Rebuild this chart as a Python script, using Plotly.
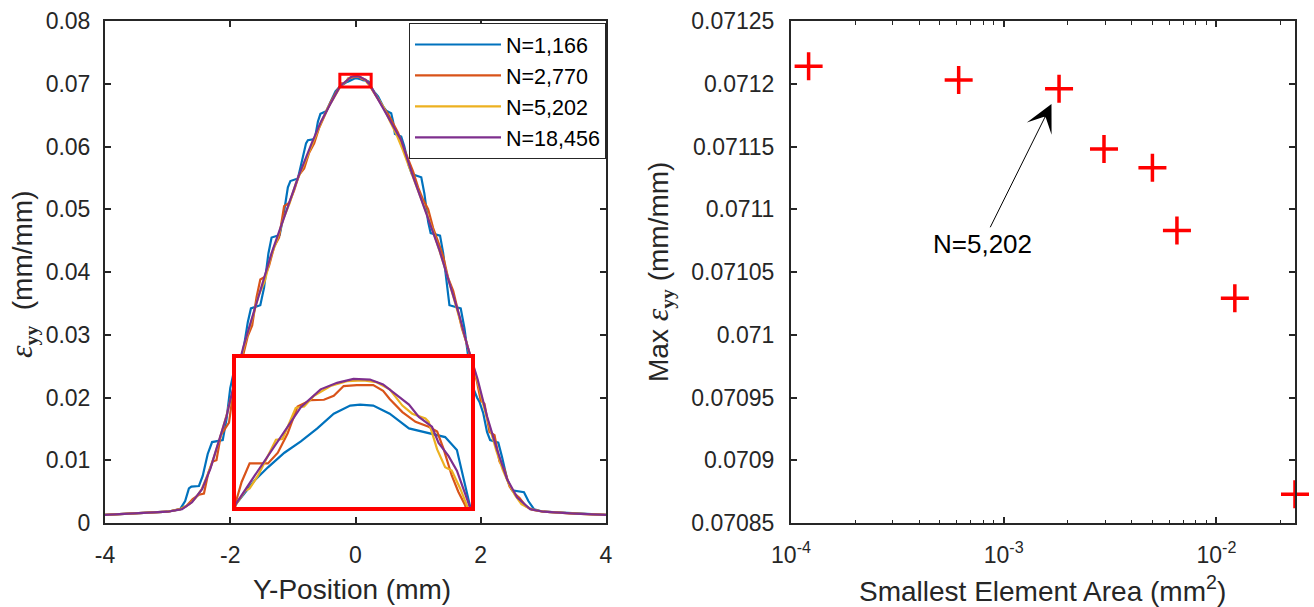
import math
import plotly.graph_objects as go

W, H = 1314, 607
FONT = "Liberation Sans, Arial, Helvetica, sans-serif"
INK = "#262626"

# ---------------- left panel: strain profiles ----------------
names = ["N=1,166", "N=2,770", "N=5,202", "N=18,456"]
colors = ["#0072BD", "#D95319", "#EDB120", "#7E2F8E"]

blue_x = [-4.0, -3.5, -3.0, -2.80, -2.72, -2.66, -2.62, -2.50, -2.44, -2.36,
          -2.29, -2.12, -2.06, -2.00, -1.95, -1.86, -1.80, -1.72, -1.67, -1.52,
          -1.46, -1.39, -1.34, -1.21, -1.15, -1.08, -1.04, -0.92, -0.86, -0.79,
          -0.76, -0.65, -0.60, -0.56, -0.47, -0.40, -0.32,
          -0.250, -0.210, -0.182, -0.147, -0.112, -0.077, -0.042, -0.007, 0.014, 0.042,
          0.077, 0.118, 0.160, 0.195, 0.220, 0.248,
          0.30, 0.36, 0.44, 0.49, 0.57, 0.60, 0.63, 0.73, 0.78, 0.85,
          0.90, 1.05, 1.10, 1.16, 1.20, 1.35, 1.40, 1.46, 1.50, 1.68,
          1.74, 1.82, 1.88, 1.94, 1.98, 2.04, 2.10, 2.15, 2.28, 2.34,
          2.42, 2.50, 2.69, 2.76, 2.85, 3.0, 3.5, 4.0]
blue_y = [0.0013, 0.0015, 0.0018, 0.0022, 0.0035, 0.0055, 0.0058, 0.0059, 0.0075, 0.0110,
          0.0129, 0.0132, 0.0165, 0.0215, 0.0238, 0.0242, 0.0270, 0.0320, 0.0342, 0.0347,
          0.0375, 0.0430, 0.0455, 0.0459, 0.0490, 0.0535, 0.0545, 0.0549, 0.0575, 0.0605,
          0.0610, 0.0612, 0.0640, 0.0652, 0.0656, 0.0672, 0.0688,
          0.069539, 0.069857, 0.070031, 0.070226, 0.070378, 0.070552, 0.070748, 0.070857, 0.070870, 0.070857,
          0.070748, 0.070552, 0.070487, 0.070435, 0.070261, 0.069509,
          0.0687, 0.0680, 0.0664, 0.0657, 0.0653, 0.0640, 0.0620, 0.0616, 0.0600, 0.0570,
          0.0556, 0.0551, 0.0525, 0.0480, 0.0462, 0.0458, 0.0430, 0.0380, 0.0347, 0.0342,
          0.0310, 0.0250, 0.0215, 0.0200, 0.0193, 0.0175, 0.0145, 0.0132, 0.0128, 0.0105,
          0.0070, 0.0052, 0.0049, 0.0035, 0.0022, 0.0018, 0.0015, 0.0013]

orange_x = [-4.0, -3.0, -2.8, -2.7, -2.6, -2.5, -2.42, -2.35, -2.28, -2.22,
            -2.15, -2.08, -2.02, -1.95, -1.88, -1.80, -1.72, -1.65, -1.58, -1.52,
            -1.45, -1.38, -1.30, -1.22, -1.14, -1.06, -0.98, -0.90, -0.82, -0.74,
            -0.66, -0.58, -0.50, -0.40, -0.30,
            -0.250, -0.238, -0.221, -0.182, -0.161, -0.140, -0.119, -0.091, -0.063, -0.042,
            -0.021, 0.007, 0.042, 0.063, 0.077, 0.104, 0.132, 0.160, 0.178, 0.192,
            0.209, 0.223, 0.237,
            0.30, 0.38, 0.46, 0.52, 0.60, 0.68, 0.76, 0.84, 0.92, 1.00,
            1.08, 1.16, 1.24, 1.32, 1.40, 1.48, 1.56, 1.62, 1.70, 1.78,
            1.86, 1.94, 2.00, 2.06, 2.14, 2.22, 2.30, 2.38, 2.46, 2.54,
            2.62, 2.72, 2.82, 3.0, 3.5, 4.0]
orange_y = [0.0013, 0.0018, 0.0022, 0.0027, 0.0038, 0.0045, 0.0047, 0.0080, 0.0098, 0.0100,
            0.0140, 0.0150, 0.0160, 0.0210, 0.0240, 0.0265, 0.0298, 0.0315, 0.0360, 0.0388,
            0.0392, 0.0410, 0.0440, 0.0455, 0.0505, 0.0510, 0.0530, 0.0555, 0.0565, 0.0590,
            0.0605, 0.0630, 0.0648, 0.0670, 0.0688,
            0.069574, 0.069835, 0.070083, 0.070083, 0.070226, 0.070487, 0.070844, 0.070931, 0.070935, 0.070987,
            0.071118, 0.071131, 0.071131, 0.071053, 0.070944, 0.070770, 0.070639, 0.070574, 0.070509, 0.070270,
            0.069922, 0.069704, 0.069530,
            0.0685, 0.0672, 0.0660, 0.0652, 0.0638, 0.0622, 0.0600, 0.0580, 0.0560, 0.0535,
            0.0515, 0.0500, 0.0470, 0.0448, 0.0425, 0.0390, 0.0370, 0.0345, 0.0310, 0.0285,
            0.0255, 0.0225, 0.0195, 0.0190, 0.0145, 0.0140, 0.0098, 0.0085, 0.0058, 0.0047,
            0.0040, 0.0027, 0.0021, 0.0018, 0.0015, 0.0013]

yellow_x = [-4.0, -3.0, -2.8, -2.65, -2.55, -2.45, -2.35, -2.25, -2.15, -2.05,
            -1.95, -1.85, -1.75, -1.65, -1.55, -1.45, -1.35, -1.25, -1.15, -1.05,
            -0.95, -0.85, -0.75, -0.65, -0.55, -0.45, -0.35,
            -0.250, -0.231, -0.221, -0.203, -0.182, -0.165, -0.151, -0.123, -0.105, -0.084,
            -0.049, -0.014, 0.021, 0.049, 0.077, 0.104, 0.125, 0.153, 0.160, 0.178,
            0.195, 0.209, 0.227, 0.244,
            0.35, 0.45, 0.55, 0.65, 0.75, 0.85, 0.95, 1.05, 1.15, 1.25,
            1.35, 1.45, 1.55, 1.65, 1.75, 1.85, 1.95, 2.05, 2.15, 2.25,
            2.35, 2.45, 2.55, 2.65, 2.8, 3.0, 3.5, 4.0]
yellow_y = [0.0013, 0.0018, 0.0022, 0.0030, 0.0040, 0.0055, 0.0080, 0.0108, 0.0140, 0.0175,
            0.0215, 0.0255, 0.0292, 0.0325, 0.0362, 0.0385, 0.0425, 0.0452, 0.0485, 0.0510,
            0.0542, 0.0565, 0.0590, 0.0615, 0.0638, 0.0660, 0.0678,
            0.069530, 0.069713, 0.069748, 0.069922, 0.070183, 0.070400, 0.070409, 0.070826, 0.070844, 0.070987,
            0.071118, 0.071183, 0.071192, 0.071170, 0.071074, 0.070857, 0.070748, 0.070683, 0.070639, 0.070270,
            0.070031, 0.069987, 0.069748, 0.069509,
            0.0678, 0.0662, 0.0640, 0.0620, 0.0596, 0.0570, 0.0543, 0.0518, 0.0490, 0.0462,
            0.0432, 0.0400, 0.0365, 0.0330, 0.0292, 0.0258, 0.0225, 0.0185, 0.0148, 0.0115,
            0.0085, 0.0062, 0.0044, 0.0030, 0.0022, 0.0018, 0.0015, 0.0013]

purple_x = [-4.0, -3.5, -3.0, -2.77, -2.61, -2.45, -2.32, -2.19, -2.06, -1.92,
            -1.79, -1.66, -1.53, -1.34, -1.13, -0.92, -0.70, -0.55, -0.40,
            -0.250, -0.210, -0.161, -0.112, -0.070, -0.035, 0.000, 0.035, 0.063, 0.118,
            0.139, 0.167, 0.181, 0.202, 0.220, 0.248,
            0.40, 0.55, 0.73, 0.92, 1.13, 1.34, 1.55, 1.66, 1.79, 1.95,
            2.10, 2.26, 2.42, 2.58, 2.79, 3.0, 3.5, 4.0]
purple_y = [0.0013, 0.0015, 0.0018, 0.0022, 0.0033, 0.0054, 0.0086, 0.0128, 0.0170, 0.0229,
            0.0281, 0.0324, 0.0366, 0.0430, 0.0490, 0.0550, 0.0605, 0.0640, 0.0668,
            0.069543, 0.069922, 0.070378, 0.070835, 0.071074, 0.071161, 0.071213, 0.071205, 0.071139, 0.070870,
            0.070705, 0.070574, 0.070357, 0.070183, 0.069987, 0.069509,
            0.0668, 0.0643, 0.0610, 0.0552, 0.0495, 0.0435, 0.0366, 0.0330, 0.0281, 0.0229,
            0.0170, 0.0117, 0.0070, 0.0041, 0.0022, 0.0018, 0.0015, 0.0013]

profile_x = [blue_x, orange_x, yellow_x, purple_x]
profile_y = [blue_y, orange_y, yellow_y, purple_y]

# zoom window shown in the inset
zoom_x = [-0.25, 0.25]
zoom_y = [0.0695, 0.0715]

left_xticks = [-4, -2, 0, 2, 4]
left_xticktext = ["-4", "-2", "0", "2", "4"]
left_yticks = [0, 0.01, 0.02, 0.03, 0.04, 0.05, 0.06, 0.07, 0.08]
left_yticktext = ["0", "0.01", "0.02", "0.03", "0.04", "0.05", "0.06", "0.07", "0.08"]

# ---------------- right panel: convergence ----------------
elem_area = [1.21e-4, 6.14e-4, 1.82e-3, 2.96e-3, 5.0e-3, 6.52e-3, 1.22e-2, 2.34e-2]
max_strain = [0.071214, 0.071203, 0.071196, 0.071148, 0.071133, 0.071083, 0.071029, 0.070873]
right_yticks = [0.07085, 0.0709, 0.07095, 0.071, 0.07105, 0.0711, 0.07115, 0.0712, 0.07125]
right_yticktext = ["0.07085", "0.0709", "0.07095", "0.071", "0.07105", "0.0711", "0.07115", "0.0712", "0.07125"]
right_xticks = [1e-4, 1e-3, 1e-2]
right_xticktext = ["10<sup>-4</sup>", "10<sup>-3</sup>", "10<sup>-2</sup>"]
right_xminor = [m * d for d in (1e-4, 1e-3, 1e-2) for m in range(2, 10)]
highlight_index = 2
highlight_label = "N=5,202"

fig = go.Figure()
for nm, xs, ys, c in zip(names, profile_x, profile_y, colors):
    fig.add_trace(go.Scatter(x=xs, y=ys, mode="lines", name=nm,
                             line=dict(color=c, width=2.2), xaxis="x", yaxis="y"))
for nm, xs, ys, c in zip(names, profile_x, profile_y, colors):
    fig.add_trace(go.Scatter(x=xs, y=ys, mode="lines", name=nm, showlegend=False,
                             line=dict(color=c, width=2.2), xaxis="x3", yaxis="y3"))
fig.add_trace(go.Scatter(x=elem_area, y=max_strain, mode="markers", showlegend=False,
                         marker=dict(symbol="cross-thin", size=20, color="red",
                                     line=dict(color="red", width=3.5)),
                         cliponaxis=False, xaxis="x2", yaxis="y2"))


def px_x(p):
    return p / W


def px_y(p):
    return 1 - p / H


common = dict(showline=True, linecolor=INK, linewidth=2, mirror="allticks",
              ticks="inside", ticklen=6, tickwidth=1.5, tickcolor=INK,
              showgrid=False, zeroline=False, automargin=False,
              tickfont=dict(family=FONT, size=23, color=INK))

fig.update_layout(
    template="none",
    width=W, height=H, autosize=False,
    margin=dict(l=0, r=0, t=0, b=0, pad=0),
    paper_bgcolor="white", plot_bgcolor="white",
    font=dict(family=FONT, color=INK, size=20),
    xaxis=dict(common, domain=[px_x(105), px_x(606)], range=[-4, 4], anchor="y",
               tickmode="array", tickvals=left_xticks, ticktext=left_xticktext,
               ticklabelstandoff=10),
    yaxis=dict(common, domain=[px_y(523), px_y(21)], range=[0, 0.08], anchor="x",
               tickmode="array", tickvals=left_yticks, ticktext=left_yticktext,
               ticklabelstandoff=8),
    xaxis2=dict(common, type="log", domain=[px_x(791), px_x(1295)],
                range=[math.log10(1e-4), math.log10(max(elem_area))], anchor="y2",
                tickmode="array", tickvals=right_xticks, ticktext=right_xticktext,
                minor=dict(tickmode="array", tickvals=right_xminor, ticks="inside",
                           ticklen=3.5, tickwidth=1.2, tickcolor=INK, showgrid=False),
                ticklabelstandoff=10),
    yaxis2=dict(common, domain=[px_y(523), px_y(21)], range=[0.07085, 0.07125], anchor="x2",
                tickmode="array", tickvals=right_yticks, ticktext=right_yticktext,
                ticklabelstandoff=10),
    xaxis3=dict(domain=[px_x(236), px_x(471)], range=zoom_x, anchor="y3",
                showline=True, mirror=True, linecolor="red", linewidth=3.5, automargin=False,
                ticks="", showticklabels=False, showgrid=False, zeroline=False),
    yaxis3=dict(domain=[px_y(507), px_y(357.5)], range=zoom_y, anchor="x3",
                showline=True, mirror=True, linecolor="red", linewidth=3.5, automargin=False,
                ticks="", showticklabels=False, showgrid=False, zeroline=False),
    legend=dict(x=px_x(606), y=px_y(23), xanchor="right", yanchor="top",
                bgcolor="white", bordercolor=INK, borderwidth=1,
                font=dict(family=FONT, size=21.5, color="black"), itemwidth=86),
    shapes=[dict(type="rect", xref="x", yref="y", x0=zoom_x[0], x1=zoom_x[1],
                 y0=zoom_y[0], y1=zoom_y[1], line=dict(color="red", width=3))],
)

eps = ("<span style=\"font-family:'Liberation Serif';font-size:32px\"><i>ε</i></span>"
       "<span style=\"font-family:'Liberation Serif'\"><sub><b>yy</b></sub></span>")
title_font = dict(family=FONT, size=28, color=INK)
fig.add_annotation(text=eps + "\u00a0 (mm/mm)", xref="paper", yref="paper",
                   x=px_x(22), y=px_y(274), textangle=-90, showarrow=False,
                   xanchor="center", yanchor="middle", font=title_font)
fig.add_annotation(text="Max " + eps + " (mm/mm)", xref="paper", yref="paper",
                   x=px_x(658), y=px_y(272), textangle=-90, showarrow=False,
                   xanchor="center", yanchor="middle", font=title_font)
fig.add_annotation(text="Y-Position (mm)", xref="paper", yref="paper",
                   x=px_x(352), y=px_y(589), showarrow=False,
                   xanchor="center", yanchor="middle", font=title_font)
fig.add_annotation(text="Smallest Element Area (mm<sup>2</sup>)", xref="paper", yref="paper",
                   x=px_x(1042), y=px_y(589), showarrow=False,
                   xanchor="center", yanchor="middle", font=title_font)
fig.add_annotation(text=highlight_label, xref="x2", yref="y2",
                   x=math.log10(elem_area[highlight_index]), y=max_strain[highlight_index],
                   ax=-77, ay=155, showarrow=True, arrowhead=3, arrowsize=4.6,
                   arrowwidth=1, arrowcolor="black", standoff=17,
                   font=dict(family=FONT, size=26, color="black"))

fig.write_html("out.html")
